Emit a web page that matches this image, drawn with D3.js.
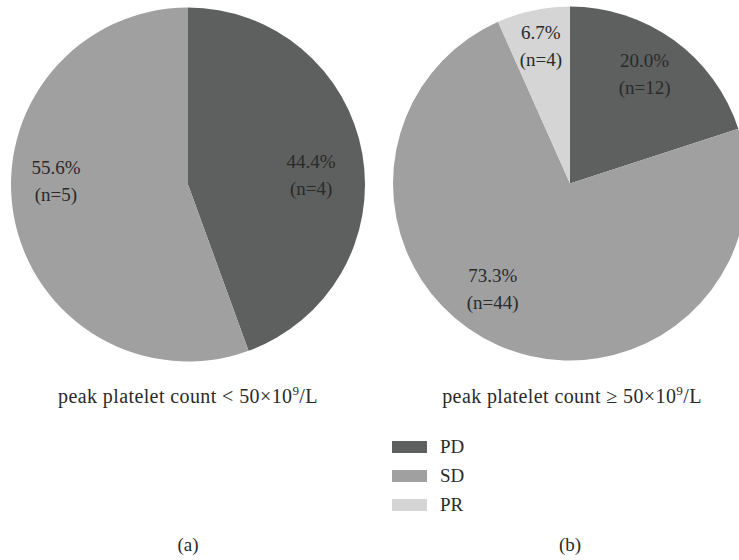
<!DOCTYPE html>
<html><head><meta charset="utf-8">
<script src="https://cdn.jsdelivr.net/npm/d3@7"></script>
<style>body{margin:0;background:#fff}svg{display:block}</style>
</head><body><svg id="c" width="739" height="560" font-family="'Liberation Serif','DejaVu Serif',serif"></svg>
<script>
const categories = ["PD", "SD", "PR"];
const colors = ["#5e605f", "#a0a0a0", "#d5d5d5"];
const countsA = [4, 5, 0];
const countsB = [12, 44, 4];
const pctA = ["44.4%", "55.6%", ""];
const pctB = ["20.0%", "73.3%", "6.7%"];
const titleA = "peak platelet count < 50×10";
const titleB = "peak platelet count ≥ 50×10";
const panelLabels = ["(a)", "(b)"];

const FONT = "'Liberation Serif','DejaVu Serif',serif";
const TXT = "#2a2a2a";
const svg = d3.select("#c");
const color = d3.scaleOrdinal().domain(categories).range(colors);
const R = 177;
const pie = d3.pie().sort(null).value(d => d.v);
const arc = d3.arc().innerRadius(0).outerRadius(R);

// label layout (radius, nudge) per panel/slice
const labelLayout = [
  [{r:125, dx:0, dy:13}, {r:130, dx:-4, dy:-26}, null],
  [{r:132, dx:-3, dy:-2}, {r:131, dx:-24, dy:-14}, {r:140, dx:0, dy:0}]
];

function txt(sel) { return sel.append("text").attr("font-family", FONT).attr("fill", TXT).attr("font-size", 19); }

function drawPie(cx, cy, counts, pcts, layout) {
  const data = categories.map((c,i)=>({c, v:counts[i], n:counts[i], p:pcts[i], i}));
  const g = svg.append("g").attr("transform", `translate(${cx},${cy})`);
  const arcs = pie(data);
  g.selectAll("path").data(arcs).join("path")
    .attr("d", arc).attr("fill", d => color(d.data.c));
  arcs.forEach(a => {
    if (!a.data.v) return;
    const L = layout[a.data.i];
    const la = d3.arc().innerRadius(L.r).outerRadius(L.r);
    const [x, y] = la.centroid(a);
    const t = txt(g).attr("text-anchor","middle")
      .attr("transform", `translate(${x+L.dx},${y+L.dy})`);
    t.append("tspan").attr("x",0).attr("y",-7.5).text(a.data.p);
    t.append("tspan").attr("x",0).attr("y",19.5).text(`(n=${a.data.n})`);
  });
}
drawPie(188, 184.5, countsA, pctA, labelLayout[0]);
drawPie(570, 183.5, countsB, pctB, labelLayout[1]);

function title(x, s) {
  const t = txt(svg).attr("x", x).attr("y", 403).attr("text-anchor","middle")
    .attr("font-size", 20).attr("letter-spacing", 0.4);
  t.append("tspan").text(s);
  t.append("tspan").attr("dy", -8).attr("font-size", 13).text("9");
  t.append("tspan").attr("dy", 8).text("/L");
}
title(188, titleA);
title(572, titleB);

const leg = svg.append("g").attr("transform","translate(392,441)");
categories.forEach((c,i) => {
  leg.append("rect").attr("x",0).attr("y", i*29).attr("width",35).attr("height",12).attr("fill", color(c));
  txt(leg).attr("x",48).attr("y", i*29+12).text(c);
});

txt(svg).attr("x",188).attr("y",551).attr("text-anchor","middle").text(panelLabels[0]);
txt(svg).attr("x",570).attr("y",551).attr("text-anchor","middle").text(panelLabels[1]);
</script></body></html>
